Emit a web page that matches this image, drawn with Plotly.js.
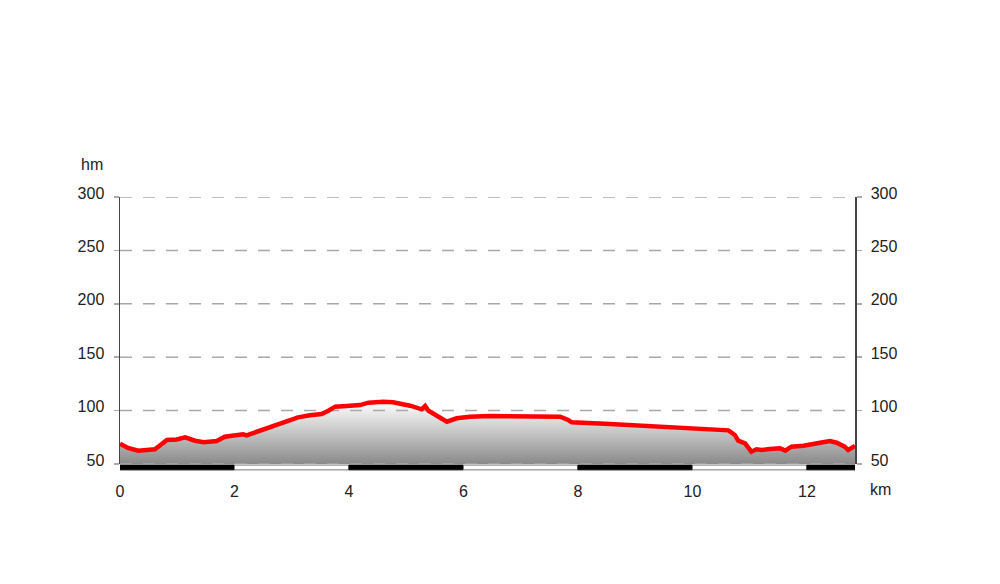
<!DOCTYPE html>
<html>
<head>
<meta charset="utf-8">
<script src="https://cdn.plot.ly/plotly-3.0.1.min.js"></script>
<style>html,body{margin:0;padding:0;background:#fff;}#chart{width:1000px;height:584px;}</style>
</head>
<body>
<div id="chart"></div>
<script>
// Distance along the route (km)
const distKm = [0, 0.14, 0.32, 0.61, 0.82, 0.99, 1.14, 1.31, 1.46, 1.69, 1.83, 2.01, 2.15, 2.21, 2.39, 2.56, 2.74, 2.91, 3.11, 3.32, 3.52, 3.64, 3.76, 3.96, 4.19, 4.34, 4.42, 4.60, 4.77, 5.07, 5.27, 5.33, 5.39, 5.56, 5.71, 5.88, 6.11, 6.46, 7.69, 7.83, 7.89, 8.56, 10.48, 10.63, 10.74, 10.80, 10.92, 11.03, 11.12, 11.21, 11.35, 11.53, 11.62, 11.73, 11.94, 12.14, 12.23, 12.40, 12.52, 12.66, 12.72, 12.84];
// Elevation (hm axis units)
const elev = [69, 65, 62.5, 63.8, 72.5, 73, 75, 71.8, 70.3, 71.5, 75.6, 77.4, 77.8, 76.8, 80.2, 84.4, 87.2, 90.3, 93.7, 95.6, 96.8, 99.9, 103.7, 104.3, 105.2, 107.4, 107.8, 108.3, 107.8, 104.6, 101.2, 104.3, 99.9, 94.3, 89.6, 92.8, 94.3, 95, 94.3, 91.2, 89, 87.5, 82.5, 81.5, 77.2, 71.8, 69.4, 61.5, 63.8, 63.1, 64, 64.7, 62.5, 66.2, 67.1, 68.4, 69.9, 71.5, 69.9, 66.2, 63.1, 67];
const yTicks = [50, 100, 150, 200, 250, 300];
const xTicks = [0, 2, 4, 6, 8, 10, 12];
const yTitle = 'hm';
const xTitle = 'km';

const xMax = distKm[distKm.length - 1];
const yMin = yTicks[0], yMax = yTicks[yTicks.length - 1];
const FONT = 'Liberation Sans, Arial, Helvetica, sans-serif';

// baseline for fill
const base = {x: [distKm[0], xMax], y: [yMin, yMin], mode: 'lines', line: {width: 0}, hoverinfo: 'skip', showlegend: false};
const area = {x: distKm, y: elev, mode: 'lines', line: {width: 0}, fill: 'tonexty',
  fillgradient: {type: 'vertical', colorscale: [[0, '#8a8a8a'], [1, '#ffffff']]},
  hoverinfo: 'skip', showlegend: false};
// gridlines drawn over the fill, under the profile line
const gx = [], gy = [];
yTicks.forEach(v => { gx.push(0, xMax, null); gy.push(v, v, null); });
const grid = {x: gx, y: gy, mode: 'lines', line: {color: '#a8a8a8', width: 1.5, dash: '12px,11px'}, cliponaxis: false, hoverinfo: 'skip', showlegend: false};
const profile = {x: distKm, y: elev, mode: 'lines', line: {color: '#ff0000', width: 4.5}, showlegend: false};
const right = {x: [0], y: [yMin], yaxis: 'y2', mode: 'markers', marker: {opacity: 0}, hoverinfo: 'skip', showlegend: false};

// scale band segments
const breaks = xTicks.concat([xMax]);
const shapes = [];
for (let i = 0; i < breaks.length - 1; i++) {
  const black = i % 2 === 0;
  shapes.push({type: 'rect', xref: 'x', yref: 'paper', x0: breaks[i], x1: breaks[i + 1], y0: -0.022, y1: -0.004,
    fillcolor: black ? '#000000' : '#ffffff', line: {color: black ? '#000000' : '#777777', width: 1}, layer: 'above'});
}

const yax = {range: [yMin, yMax], tickvals: yTicks, showgrid: false, zeroline: false, showline: true,
  linecolor: '#444', linewidth: 1.5, ticks: 'outside', ticklen: 5, tickcolor: '#aaa', tickwidth: 1.5,
  tickfont: {family: FONT, size: 16, color: '#222'}, ticklabelshift: -4, ticklabelstandoff: 6, fixedrange: true};

const layout = {
  width: 1000, height: 584,
  margin: {l: 120, r: 145, t: 197, b: 120, pad: 0},
  paper_bgcolor: '#fff', plot_bgcolor: '#fff',
  font: {family: FONT, size: 16, color: '#222'},
  xaxis: {range: [0, xMax], tickvals: xTicks, showgrid: false, zeroline: false, showline: false, ticks: '',
    tickfont: {family: FONT, size: 16, color: '#222'}, ticklabelstandoff: 16, fixedrange: true},
  yaxis: yax,
  yaxis2: Object.assign({}, yax, {overlaying: 'y', side: 'right', anchor: 'x'}),
  shapes: shapes,
  annotations: [
    {text: yTitle, xref: 'paper', yref: 'paper', x: -0.038, y: 1.12, xanchor: 'center', yanchor: 'middle', showarrow: false, font: {family: FONT, size: 16, color: '#222'}},
    {text: xTitle, xref: 'paper', yref: 'paper', x: 1.035, y: -0.094, xanchor: 'center', yanchor: 'middle', showarrow: false, font: {family: FONT, size: 16, color: '#222'}}
  ]
};

Plotly.newPlot('chart', [base, area, grid, profile, right], layout, {displayModeBar: false, staticPlot: true});
</script>
</body>
</html>
